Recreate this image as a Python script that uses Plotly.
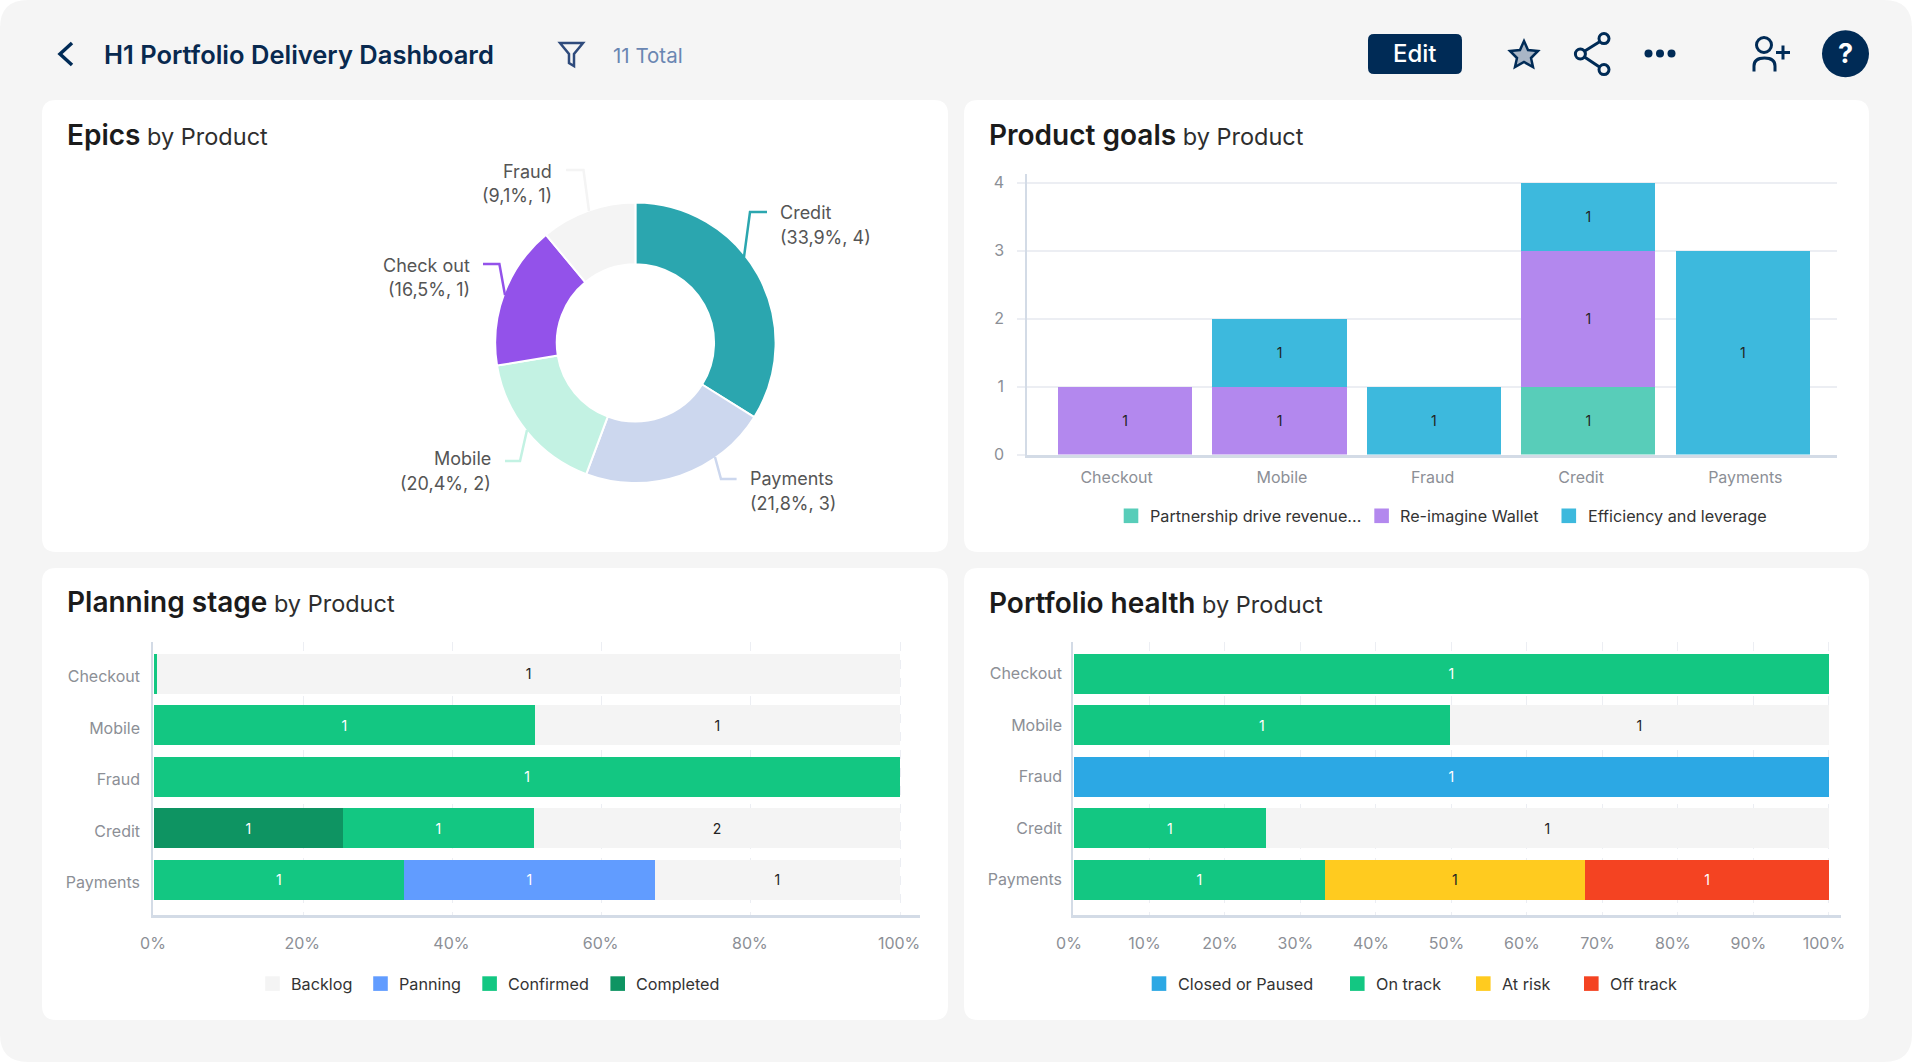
"""H1 portfolio delivery dashboard rebuilt with Plotly."""

import plotly.graph_objects as go

W, H = 1912, 1062
FONT = "Inter, Arial, sans-serif"
NAVY = "#002B56"
TICK_GREY = "#8C8F96"
TEXT_DARK = "#333333"
AXIS_LINE = "#D3DBE6"
GRID = "#ECEEF3"

# Epics donut
epic_products = ["Credit", "Payments", "Mobile", "Check out", "Fraud"]
epic_shares = [33.9, 21.8, 16.7, 16.6, 11.0]
epic_labels = ["(33,9%, 4)", "(21,8%, 3)", "(20,4%, 2)", "(16,5%, 1)", "(9,1%, 1)"]
epic_colors = ["#2BA6AF", "#CCD7EE", "#C3F2E3", "#9352EA", "#F4F4F4"]

products = ["Checkout", "Mobile", "Fraud", "Credit", "Payments"]
goal_slots = [0, 1, 2, 3, 4]
goal_tick_slots = [-0.055, 1.016, 1.992, 2.953, 4.016]
partnership = [0, 0, 0, 1, 0]
reimagine = [1, 1, 0, 2, 0]
efficiency = [0, 1, 1, 1, 3]
partnership_text = ["", "", "", "1", ""]
reimagine_text = ["1", "1", "", "1", ""]
efficiency_text = ["", "1", "1", "1", "1"]

# Planning stage, percent of product
completed = [0, 0, 0, 25.3, 0]
confirmed = [0.4, 51, 100, 25.6, 33.5]
panning = [0, 0, 0, 0, 33.6]
backlog = [99.6, 49, 0, 49.1, 32.9]
completed_text = ["", "", "", "1", ""]
confirmed_text = ["", "1", "1", "1", "1"]
panning_text = ["", "", "", "", "1"]
backlog_text = ["1", "1", "", "2", "1"]

# Portfolio health, percent of product
closed = [0, 0, 100, 0, 0]
on_track = [100, 49.8, 0, 25.4, 33.2]
at_risk = [0, 0, 0, 0, 34.5]
off_track = [0, 0, 0, 0, 32.3]
not_set = [0, 50.2, 0, 74.6, 0]
closed_text = ["", "", "1", "", ""]
on_track_text = ["1", "1", "", "1", "1"]
at_risk_text = ["", "", "", "", "1"]
off_track_text = ["", "", "", "", "1"]
not_set_text = ["", "1", "", "1", ""]

goal_legend = [("Partnership drive revenue...", "#58CDB9"), ("Re-imagine Wallet", "#B388EE"),
               ("Efficiency and leverage", "#3DB9DD")]
stage_legend = [("Backlog", "#F4F4F4"), ("Panning", "#619CFF"), ("Confirmed", "#13C782"),
                ("Completed", "#0E9462")]
health_legend = [("Closed or Paused", "#2CA8E4"), ("On track", "#13C782"), ("At risk", "#FFCB1F"),
                 ("Off track", "#F44322")]


def px(x):
    return x / W


def py(y):
    return 1 - y / H


def dom_x(x0, x1):
    return [px(x0), px(x1)]


def dom_y(y0, y1):
    return [py(y1), py(y0)]


def path_str(cmds):
    """Turn (cmd, x, y, ...) tuples in page pixels into a paper-space path."""
    out = []
    for c in cmds:
        if len(c) == 1:
            out.append(c[0])
            continue
        pts = c[1:]
        coords = " ".join(f"{px(pts[i]):.5f},{py(pts[i + 1]):.5f}" for i in range(0, len(pts), 2))
        out.append(f"{c[0]} {coords}")
    return " ".join(out)


def rounded(x0, y0, x1, y1, r):
    return path_str([
        ("M", x0 + r, y0), ("L", x1 - r, y0), ("Q", x1, y0, x1, y0 + r),
        ("L", x1, y1 - r), ("Q", x1, y1, x1 - r, y1), ("L", x0 + r, y1),
        ("Q", x0, y1, x0, y1 - r), ("L", x0, y0 + r), ("Q", x0, y0, x0 + r, y0), ("Z",),
    ])


def fill_shape(path, color, layer="below"):
    return dict(type="path", xref="paper", yref="paper", path=path, fillcolor=color,
                line=dict(width=0), layer=layer)


def line_shape(cmds, color, width, fill="rgba(0,0,0,0)"):
    return dict(type="path", xref="paper", yref="paper", path=path_str(cmds), fillcolor=fill,
                line=dict(color=color, width=width), layer="above")


def circle_shape(cx, cy, r, color, width=0, fill=None):
    return dict(type="circle", xref="paper", yref="paper", x0=px(cx - r), x1=px(cx + r),
                y0=py(cy + r), y1=py(cy - r), fillcolor=fill or "rgba(0,0,0,0)",
                line=dict(color=color, width=width), layer="above")


def label(x, y, text, size, color, anchor="left", weight=None):
    font = dict(family=FONT, size=size, color=color)
    if weight:
        font["weight"] = weight
    return dict(xref="paper", yref="paper", x=px(x), y=py(y), text=text, showarrow=False,
                xanchor=anchor, yanchor="middle", align=anchor, font=font)


def card_title(x, y, strong):
    text = f"<span style='font-weight:600;color:#1B1B1B;font-size:28px'>{strong}</span> by Product"
    return label(x, y, text, 23.5, "#2E2E2E")


def legend_row(entries, lefts, y):
    """Swatch and label per entry: the legend gaps here are uneven, so place them by hand."""
    row_shapes, row_labels = [], []
    for (name, color), x in zip(entries, lefts):
        row_shapes.append(fill_shape(path_str([
            ("M", x, y - 7.3), ("L", x + 14.6, y - 7.3), ("L", x + 14.6, y + 7.3), ("L", x, y + 7.3), ("Z",),
        ]), color))
        row_labels.append(label(x + 24, y, name, 16.2, TEXT_DARK))
    return row_shapes, row_labels


def stacked(fig, cats, values, text, name, color, text_color, axes, horizontal=True):
    kwargs = dict(
        name=name, marker=dict(color=color, line=dict(width=0)), text=text,
        textposition="inside", insidetextanchor="middle", textangle=0,
        textfont=dict(family=FONT, size=14, color=text_color), constraintext="none",
        hoverinfo="skip", xaxis=axes[0], yaxis=axes[1], showlegend=False,
    )
    if horizontal:
        fig.add_trace(go.Bar(y=cats, x=values, orientation="h", **kwargs))
    else:
        fig.add_trace(go.Bar(x=cats, y=values, width=0.868, **kwargs))


fig = go.Figure()

fig.add_trace(go.Pie(
    labels=epic_products, values=epic_shares, hole=0.561, sort=False, direction="clockwise",
    rotation=0, textinfo="none", hoverinfo="skip", showlegend=False,
    marker=dict(colors=epic_colors, line=dict(color="#FFFFFF", width=2)),
    domain=dict(x=dom_x(495.2, 775.6), y=dom_y(202.6, 483)),
))

stacked(fig, goal_slots, partnership, partnership_text, "Partnership drive revenue...", "#58CDB9", "#222222", ("x", "y"), False)
stacked(fig, goal_slots, reimagine, reimagine_text, "Re-imagine Wallet", "#B388EE", "#222222", ("x", "y"), False)
stacked(fig, goal_slots, efficiency, efficiency_text, "Efficiency and leverage", "#3DB9DD", "#222222", ("x", "y"), False)

stacked(fig, products, completed, completed_text, "Completed", "#0E9462", "#FFFFFF", ("x2", "y2"))
stacked(fig, products, confirmed, confirmed_text, "Confirmed", "#13C782", "#FFFFFF", ("x2", "y2"))
stacked(fig, products, panning, panning_text, "Panning", "#619CFF", "#FFFFFF", ("x2", "y2"))
stacked(fig, products, backlog, backlog_text, "Backlog", "#F4F4F4", "#222222", ("x2", "y2"))

stacked(fig, products, closed, closed_text, "Closed or Paused", "#2CA8E4", "#FFFFFF", ("x3", "y3"))
stacked(fig, products, on_track, on_track_text, "On track", "#13C782", "#FFFFFF", ("x3", "y3"))
stacked(fig, products, at_risk, at_risk_text, "At risk", "#FFCB1F", "#222222", ("x3", "y3"))
stacked(fig, products, off_track, off_track_text, "Off track", "#F44322", "#FFFFFF", ("x3", "y3"))
stacked(fig, products, not_set, not_set_text, "Not set", "#F4F4F4", "#222222", ("x3", "y3"))

tick_font = dict(family=FONT, size=16, color=TICK_GREY)

fig.update_layout(
    width=W, height=H, margin=dict(l=0, r=0, t=0, b=0, pad=0), autosize=False,
    paper_bgcolor="#FFFFFF", plot_bgcolor="rgba(0,0,0,0)", barmode="stack",
    font=dict(family=FONT), bargap=0.23, showlegend=False,
    xaxis=dict(
        domain=dom_x(1027, 1837), anchor="y", range=[-0.635, 4.61], showgrid=False,
        tickvals=goal_tick_slots, ticktext=products, tickangle=0,
        showline=True, linecolor=AXIS_LINE, linewidth=2.5, ticks="", tickfont=tick_font,
        ticklabelstandoff=6, zeroline=False,
    ),
    yaxis=dict(
        domain=dom_y(174, 454.6), anchor="x", range=[0, 4.126], tickvals=[0, 1, 2, 3, 4],
        showgrid=True, gridcolor=GRID, gridwidth=2, zeroline=False, showline=True,
        linecolor=AXIS_LINE, linewidth=1.5, ticks="outside", ticklen=8, tickcolor=GRID,
        tickwidth=2, tickfont=tick_font, ticklabelstandoff=10,
    ),
    xaxis2=dict(
        domain=dom_x(153, 919.5), anchor="y2", range=[-0.13, 102.6], tickvals=[0, 20, 40, 60, 80, 100],
        ticktext=["0%", "20%", "40%", "60%", "80%", "100%"], showgrid=True, griddash="dash",
        gridcolor=GRID, gridwidth=1, zeroline=False, showline=True, linecolor=AXIS_LINE,
        linewidth=2.5, ticks="", tickfont=tick_font, ticklabelstandoff=13, ticklabelshift=-1,
    ),
    yaxis2=dict(
        domain=dom_y(642, 914.5), anchor="x2", range=[4.674, -0.617], showgrid=False,
        showline=True, linecolor=AXIS_LINE, linewidth=1.5, ticks="", tickfont=tick_font,
        ticklabelstandoff=8, ticklabelshift=-3,
    ),
    xaxis3=dict(
        domain=dom_x(1073, 1841), anchor="y3", range=[-0.13, 101.6],
        tickvals=[0, 10, 20, 30, 40, 50, 60, 70, 80, 90, 100],
        ticktext=["0%", "10%", "20%", "30%", "40%", "50%", "60%", "70%", "80%", "90%", "100%"],
        showgrid=True, griddash="dash", gridcolor=GRID, gridwidth=1, zeroline=False,
        showline=True, linecolor=AXIS_LINE, linewidth=2.5, ticks="", tickfont=tick_font,
        ticklabelstandoff=13, ticklabelshift=-5,
    ),
    yaxis3=dict(
        domain=dom_y(642, 914.5), anchor="x3", range=[4.674, -0.617], showgrid=False,
        showline=True, linecolor=AXIS_LINE, linewidth=1.5, ticks="", tickfont=tick_font,
        ticklabelstandoff=6,
    ),
)
# the default template turns automargin on, which shrinks the paper area
fig.update_xaxes(automargin=False)
fig.update_yaxes(automargin=False)

shapes = [
    fill_shape(rounded(0, 0, W, H, 28), "#F5F5F5"),
    fill_shape(rounded(42, 100, 948, 552, 14), "#FFFFFF"),
    fill_shape(rounded(964, 100, 1869, 552, 14), "#FFFFFF"),
    fill_shape(rounded(42, 568, 948, 1020, 14), "#FFFFFF"),
    fill_shape(rounded(964, 568, 1869, 1020, 14), "#FFFFFF"),
    # donut leader lines
    line_shape([("M", 767, 212), ("L", 750, 212), ("L", 744, 257)], "#2BA6AF", 2.5),
    line_shape([("M", 736.6, 479), ("L", 721, 479), ("L", 715, 457)], "#CCD7EE", 2.5),
    line_shape([("M", 505, 461), ("L", 520, 461), ("L", 527, 430)], "#C3F2E3", 2.5),
    line_shape([("M", 483, 264), ("L", 499.4, 264), ("L", 505, 295)], "#9352EA", 2.5),
    line_shape([("M", 566, 170), ("L", 583.5, 170), ("L", 589, 211)], "#F4F4F4", 2.5),
    # header icons
    line_shape([("M", 72, 43), ("L", 60, 54), ("L", 72, 65)], NAVY, 3.5),
    line_shape([("M", 560, 43), ("L", 583, 43), ("L", 574, 54), ("L", 574, 66),
                ("L", 569, 63), ("L", 569, 54), ("Z",)], "#2F4B7C", 2.5),
    fill_shape(rounded(1368, 34, 1462, 74, 6), NAVY, layer="above"),
    line_shape([("M", 1524, 41), ("L", 1528, 50), ("L", 1538, 51), ("L", 1531, 58),
                ("L", 1533, 67), ("L", 1524, 62), ("L", 1515, 67), ("L", 1517, 58),
                ("L", 1510, 51), ("L", 1520, 50), ("Z",)], NAVY, 2.5, fill="#A9B6C6"),
    line_shape([("M", 1604, 39), ("L", 1580, 54), ("L", 1604, 70)], NAVY, 3),
    circle_shape(1580.4, 54, 5, NAVY, 3, fill="#F5F5F5"),
    circle_shape(1604, 38.6, 5, NAVY, 3, fill="#F5F5F5"),
    circle_shape(1604, 69.6, 5, NAVY, 3, fill="#F5F5F5"),
    circle_shape(1648.5, 53.6, 4, NAVY, 0, fill=NAVY),
    circle_shape(1660, 53.6, 4, NAVY, 0, fill=NAVY),
    circle_shape(1671.5, 53.6, 4, NAVY, 0, fill=NAVY),
    circle_shape(1764, 45, 7.5, NAVY, 3),
    line_shape([("M", 1754, 71.5), ("L", 1754, 66), ("Q", 1754, 58, 1764.5, 58),
                ("Q", 1775, 58, 1775, 66), ("L", 1775, 71.5)], NAVY, 3),
    line_shape([("M", 1776, 52.5), ("L", 1790, 52.5), ("M", 1783, 45.5), ("L", 1783, 59.5)], NAVY, 3),
    circle_shape(1845.5, 53.8, 23.5, NAVY, 0, fill=NAVY),
]

annotations = [
    label(101.5, 55, "H1 Portfolio Delivery Dashboard", 25.5, "#08294F", weight=600),
    label(611, 55.5, "11 Total", 20.5, "#6A86B2"),
    label(1415, 53.5, "Edit", 24, "#FFFFFF", anchor="center", weight=500),
    label(1845.5, 54, "?", 27, "#FFFFFF", anchor="center", weight=700),
    card_title(65.2, 134.7, "Epics"),
    card_title(986.5, 135.4, "Product goals"),
    card_title(65.2, 602, "Planning stage"),
    card_title(986.5, 603, "Portfolio health"),
]

# donut labels: product name over "(share, count)"
label_spots = [
    (778, 213, "left"),
    (747.5, 479, "left"),
    (493, 459, "right"),
    (472, 265, "right"),
    (553.5, 171, "right"),
]
for product, detail, (lx, ly, side) in zip(epic_products, epic_labels, label_spots):
    annotations.append(label(lx, ly, product, 18, "#555555", anchor=side))
    annotations.append(label(lx, ly + 24.5, detail, 18, "#555555", anchor=side))

for entries, lefts, row_y in [
    (goal_legend, [1123.7, 1374.3, 1561.5], 515.8),
    (stage_legend, [265.2, 373.2, 482.3, 610.4], 983.6),
    (health_legend, [1151.7, 1350, 1476, 1584], 983.6),
]:
    row_shapes, row_labels = legend_row(entries, lefts, row_y)
    shapes += row_shapes
    annotations += row_labels

fig.update_layout(shapes=shapes, annotations=annotations)

fig.write_html("out.html", config={"displayModeBar": False},
               post_script="document.body.style.margin='0';")
